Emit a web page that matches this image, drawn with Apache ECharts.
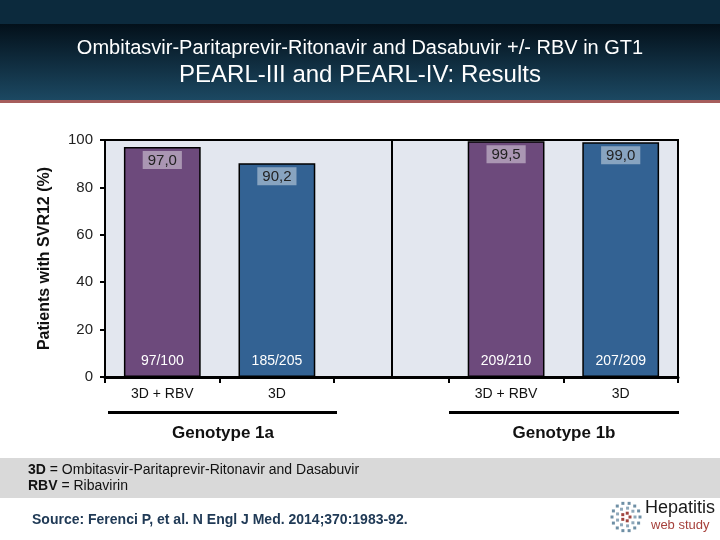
<!DOCTYPE html>
<html>
<head>
<meta charset="utf-8">
<script src="https://cdn.jsdelivr.net/npm/echarts@6.0.0/dist/echarts.min.js"></script>
<style>
  html, body { margin: 0; padding: 0; background: #fff; }
  #main { width: 720px; height: 540px; }
</style>
</head>
<body>
<div id="main"></div>
<script>
// 数据
var categories = ['3D + RBV', '3D', '', '3D + RBV', '3D']
var svrValues = [97.0, 90.2, null, 99.5, 99.0]
var patientCounts = ['97/100', '185/205', '', '209/210', '207/209']
var yTicks = [0, 20, 40, 60, 80, 100]
var groupNames = ['Genotype 1a', 'Genotype 1b']

var purple = '#6D4A7C'
var blue = '#336293'
var barColors = [purple, blue, null, purple, blue]
var font = "'Liberation Sans', Arial, sans-serif"

var myChart = echarts.init(document.getElementById('main'))

// 标志的圆点
var logoDots = []
var rings = [[14, 14, '#6E8FA5'], [9, 9, '#8FA8BA'], [4, 5, '#A0453F']]
rings.forEach(function (r) {
  for (var i = 0; i < r[1]; i++) {
    var a = (Math.PI * 2 * i) / r[1]
    logoDots.push({
      type: 'rect',
      shape: { x: 626 + r[0] * Math.cos(a) - 1.5, y: 517 + r[0] * Math.sin(a) - 1.5, width: 3, height: 3 },
      style: { fill: r[2] }
    })
  }
})

var option = {
  animation: false,
  grid: {
    left: 105,
    right: 42,
    top: 140,
    bottom: 163,
    show: true,
    backgroundColor: '#E3E7EF',
    borderColor: '#000',
    borderWidth: 2
  },
  xAxis: {
    type: 'category',
    data: categories,
    axisLine: { lineStyle: { color: '#000', width: 3 } },
    axisTick: { show: true, length: 6, lineStyle: { color: '#000', width: 2 } },
    axisLabel: { interval: 0, fontSize: 14, color: '#111', margin: 10, fontFamily: font }
  },
  yAxis: {
    type: 'value',
    min: yTicks[0],
    max: yTicks[yTicks.length - 1],
    interval: 20,
    name: 'Patients with SVR12 (%)',
    nameLocation: 'middle',
    nameRotate: 90,
    nameGap: 52,
    nameTextStyle: { fontSize: 16, fontWeight: 'bold', color: '#111', fontFamily: font },
    axisLine: { show: true, lineStyle: { color: '#000', width: 2 } },
    axisTick: { show: true, length: 5, lineStyle: { color: '#000', width: 2 } },
    axisLabel: { fontSize: 15, color: '#222', margin: 12, fontFamily: font },
    splitLine: { show: false }
  },
  series: [
    {
      type: 'bar',
      barWidth: '67%',
      barGap: '-100%',
      data: svrValues.map(function (v, i) {
        return {
          value: v === null ? '-' : v,
          itemStyle: { color: barColors[i] || 'transparent', borderColor: '#000', borderWidth: 1.5 }
        }
      }),
      label: {
        show: true,
        position: 'insideTop',
        distance: 4,
        fontSize: 15,
        color: '#222',
        fontFamily: font,
        backgroundColor: 'rgba(255,255,255,0.42)',
        padding: [2, 5, 1, 5],
        formatter: function (p) {
          return p.value.toFixed(1).replace('.', ',')
        }
      },
      // 中间分隔线
      markLine: {
        silent: true,
        symbol: 'none',
        label: { show: false },
        lineStyle: { color: '#000', width: 2, type: 'solid' },
        data: [{ xAxis: 2 }]
      }
    },
    {
      type: 'bar',
      barWidth: '67%',
      barGap: '-100%',
      silent: true,
      data: svrValues.map(function (v) { return v === null ? '-' : v }),
      itemStyle: { color: 'transparent', borderWidth: 0 },
      label: {
        show: true,
        position: 'insideBottom',
        distance: 9,
        fontSize: 14,
        color: '#fff',
        fontFamily: font,
        formatter: function (p) {
          return patientCounts[p.dataIndex]
        }
      }
    }
  ],
  graphic: [
    // 标题栏
    { type: 'rect', shape: { x: 0, y: 0, width: 720, height: 24 }, style: { fill: '#0C2A3D' } },
    {
      type: 'rect',
      shape: { x: 0, y: 24, width: 720, height: 77 },
      style: {
        fill: new echarts.graphic.LinearGradient(0, 0, 0, 1, [
          { offset: 0, color: '#03101A' },
          { offset: 1, color: '#1C4963' }
        ])
      }
    },
    { type: 'rect', shape: { x: 0, y: 100, width: 720, height: 3 }, style: { fill: '#A65D5C' } },
    {
      type: 'text', left: 'center', top: 38,
      style: { text: 'Ombitasvir-Paritaprevir-Ritonavir and Dasabuvir +/- RBV in GT1', fill: '#fff', fontSize: 20, fontFamily: font }
    },
    {
      type: 'text', left: 'center', top: 63,
      style: { text: 'PEARL-III and PEARL-IV: Results', fill: '#fff', fontSize: 24, fontFamily: font }
    },
    // 分组线和名称
    { type: 'rect', shape: { x: 108, y: 411, width: 229, height: 3 }, style: { fill: '#000' } },
    { type: 'rect', shape: { x: 449, y: 411, width: 230, height: 3 }, style: { fill: '#000' } },
    {
      type: 'text', x: 223, y: 433,
      style: { text: groupNames[0], fill: '#111', fontSize: 17, fontWeight: 'bold', fontFamily: font, align: 'center', verticalAlign: 'middle' }
    },
    {
      type: 'text', x: 564, y: 433,
      style: { text: groupNames[1], fill: '#111', fontSize: 17, fontWeight: 'bold', fontFamily: font, align: 'center', verticalAlign: 'middle' }
    },
    // 脚注
    { type: 'rect', shape: { x: 0, y: 458, width: 720, height: 40 }, style: { fill: '#D9D9D9' } },
    {
      type: 'text', x: 28, y: 462,
      style: {
        text: '{b|3D} = Ombitasvir-Paritaprevir-Ritonavir and Dasabuvir\n{b|RBV} = Ribavirin',
        fill: '#111', fontSize: 14, lineHeight: 16, fontFamily: font,
        rich: { b: { fontWeight: 'bold', fontSize: 14, fill: '#111', fontFamily: font } }
      }
    },
    {
      type: 'text', x: 32, y: 513,
      style: { text: 'Source: Ferenci P, et al. N Engl J Med. 2014;370:1983-92.', fill: '#203A56', fontSize: 14, fontWeight: 'bold', fontFamily: font }
    },
    {
      type: 'text', x: 645, y: 499,
      style: { text: 'Hepatitis', fill: '#1A1A1A', fontSize: 18, fontFamily: font }
    },
    {
      type: 'text', x: 651, y: 519,
      style: { text: 'web study', fill: '#A6403B', fontSize: 13, fontFamily: font }
    }
  ].concat(logoDots)
}

myChart.setOption(option)
</script>
</body>
</html>
